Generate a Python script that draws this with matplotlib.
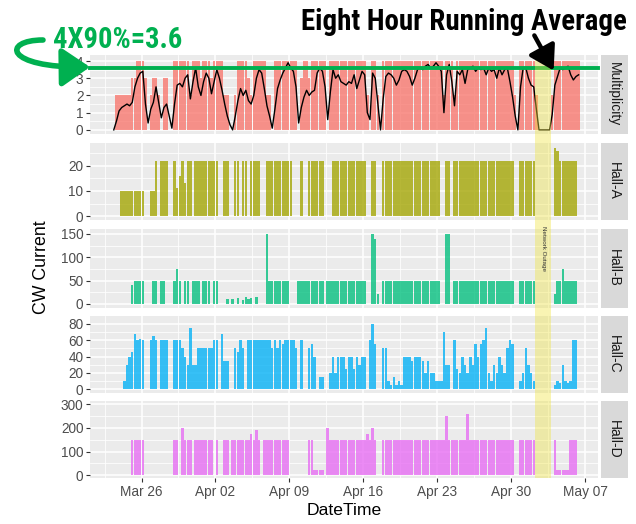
import numpy as np
import matplotlib
matplotlib.use("Agg")
import matplotlib.pyplot as plt
import matplotlib.dates as mdates
import matplotlib.transforms as mtrans
from matplotlib import font_manager
from matplotlib.patches import FancyArrowPatch, Rectangle
from matplotlib.path import Path
from datetime import datetime, timedelta

# ---------------- data (6-hour bins starting 2017-03-23 00:00) ----------------
start_time = datetime(2017, 3, 23)
bin_hours = 6
nan = float("nan")

multiplicity = [
    0, 0, 2, 2,  2, 2, 2, 2,  3, 3, 4, 4,  4, 3, 0, 2,  3, 3, 2, 0,  3, 3, 0, 0,  4, 4, 4, 4,
    4, 4, 2, 4,  4, 4, 3, 4,  4, 4, 3, 4,  4, 4, 4, 2,  2, 0, 0, 2,  4, 4, 4, 4,  3, 2, 4, 4,
    4, 4, 4, 2,  2, 0, 4, 4,  4, 4, 4, 4,  4, 4, 4, 0,  3, 4, 4, 3,  4, 4, 4, 4,  4, 4, 0, 4,
    4, 4, 4, 4,  4, 4, 4, 4,  4, 4, 4, 4,  4, 2, 0, 4,  4, 2, 0, 4,  4, 4, 4, 4,  4, 4, 4, 4,
    4, 4, 4, 4,  4, 4, 4, 4,  4, 4, 4, 4,  4, 4, 2, 4,  4, 4, 2, 4,  4, 4, 4, 4,  4, 4, 4, 4,
    4, 4, 4, 4,  4, 4, 4, 4,  4, 4, 4, 4,  4, 2, 0, 4,  4, 4, 4, 4,  4, 2, 0, 0,  0, 0, 0, 2,
    4, 4, 4, 4,  4, 4, 4, 4,  4, 4, 0, 0,
]

running_avg = [
    nan, 0.0, 0.5, 1.1,  1.3, 1.4, 1.5, 1.4,  1.6, 2.5, 3.0, 3.3,  3.4, 1.5, 0.4, 1.2,
    1.6, 2.5, 1.6, 0.7,  1.3, 1.5, 0.8, 0.1,  1.5, 2.6, 2.7, 2.5,
    3.0, 3.2, 1.8, 2.8,  3.6, 2.5, 2.0, 2.8,  3.3, 3.0, 2.1, 2.8,  3.5, 3.0, 2.3, 1.5,
    0.8, 0.3, 0.0, 0.8,  1.7, 2.4, 2.0, 2.3,  1.7, 1.5, 2.0, 3.0,
    3.5, 3.3, 2.4, 1.4,  0.8, 0.1, 1.2, 2.4,  2.9, 3.3, 3.6, 3.9,  3.6, 3.4, 2.5, 0.4,
    1.3, 1.9, 2.3, 2.0,  2.2, 2.3, 3.3, 3.6,  3.4, 2.5, 0.6, 2.2,
    3.5, 3.0, 3.2, 2.8,  2.7, 2.6, 2.8, 2.7,  3.2, 2.4, 2.9, 3.4,  3.2, 1.0, 0.6, 3.3,
    3.0, 1.5, 0.0, 1.8,  3.1, 3.3, 3.2, 3.0,  2.6, 2.9, 3.4, 3.5,
    3.4, 3.1, 2.6, 3.0,  3.5, 3.6, 3.5, 3.7,  3.8, 3.6, 3.7, 3.9,  3.7, 3.4, 1.0, 3.2,
    3.8, 2.8, 1.4, 3.4,  3.2, 3.5, 2.7, 3.5,  3.6, 3.7, 3.4, 3.6,
    3.5, 3.6, 3.2, 3.6,  3.4, 3.5, 3.0, 3.6,  3.2, 3.5, 3.6, 2.8,  1.9, 0.8, 0.0, 2.5,
    3.6, 3.6, 3.0, 2.6,  2.5, 1.2, 0.0, 0.0,  0.0, 0.0, 0.0, 0.9,
    2.6, 3.1, 3.6, 3.5,  3.6, 3.7, 3.2, 2.9,  3.1, 3.2, nan, nan,
]

hall_a = [
    0, 0, 0, 0,  10, 10, 10, 10,  10, 10, 10, 10,  10, 0, 0, 10,  10, 22, 0, 22,  22, 22, 0, 0,  22, 11, 16, 22,
    13, 22, 22, 0,  22, 22, 22, 22,  22, 22, 22, 22,  22, 0, 0, 22,  22, 0, 0, 22,  22, 0, 22, 22,  0, 22, 22, 22,
    22, 0, 0, 22,  22, 22, 22, 22,  22, 22, 22, 22,  22, 0, 0, 0,  22, 0, 0, 22,  22, 22, 22, 22,  22, 0, 0, 0,
    22, 22, 22, 22,  22, 22, 22, 22,  22, 22, 22, 22,  22, 0, 0, 22,  22, 0, 0, 22,  22, 22, 22, 22,  22, 22, 22, 22,
    22, 22, 22, 22,  22, 22, 22, 22,  22, 22, 22, 22,  22, 0, 0, 22,  22, 0, 22, 22,  22, 22, 22, 22,  22, 22, 22, 22,
    22, 22, 22, 22,  22, 22, 22, 22,  22, 22, 22, 22,  22, 0, 0, 22,  22, 22, 22, 22,  22, 0, 0, 0,  0, 0, 0, 0,
    27, 26, 22, 22,  22, 22, 22, 22,  22, 0, 0, 0,
]

hall_b = [
    0, 0, 0, 0,  0, 0, 0, 0,  40, 50, 50, 50,  50, 0, 0, 0,  50, 50, 0, 50,  50, 0, 0, 0,  50, 75, 50, 0,
    50, 50, 0, 50,  50, 50, 0, 50,  50, 50, 0, 50,  50, 0, 0, 0,  10, 0, 10, 0,  12, 0, 8, 15,  10, 12, 0, 15,
    0, 0, 0, 150,  50, 50, 50, 50,  50, 50, 50, 50,  0, 0, 0, 50,  50, 50, 50, 50,  50, 50, 50, 50,  50, 0, 50, 50,
    50, 50, 50, 50,  50, 50, 50, 50,  50, 50, 50, 50,  50, 0, 0, 150,  140, 20, 0, 50,  50, 50, 50, 50,  50, 50, 50, 50,
    50, 50, 50, 50,  50, 50, 50, 50,  50, 50, 50, 50,  50, 0, 0, 150,  150, 0, 50, 50,  50, 50, 50, 50,  50, 50, 50, 50,
    50, 50, 50, 50,  50, 50, 50, 50,  50, 50, 50, 50,  50, 0, 0, 50,  50, 50, 50, 50,  50, 0, 0, 0,  0, 0, 0, 0,
    20, 50, 50, 75,  50, 50, 50, 50,  50, 0, 0, 0,
]

hall_c = [
    0, 0, 0, 0,  0, 10, 30, 40,  45, 68, 60, 62,  60, 0, 0, 60,  65, 60, 0, 60,  60, 60, 0, 0,  60, 60, 60, 50,
    40, 30, 75, 30,  30, 50, 50, 50,  50, 50, 50, 60,  60, 0, 68, 35,  35, 0, 0, 50,  45, 60, 50, 0,  60, 60, 60, 60,
    60, 60, 60, 60,  60, 50, 60, 50,  60, 55, 60, 60,  60, 60, 50, 0,  60, 0, 0, 50,  55, 40, 0, 15,  15, 0, 0, 20,
    40, 20, 40, 40,  40, 25, 40, 40,  25, 40, 30, 40,  40, 0, 60, 80,  55, 0, 0, 50,  50, 10, 5, 15,  5, 10, 5, 40,
    40, 40, 35, 40,  40, 40, 35, 20,  35, 20, 20, 10,  10, 10, 70, 30,  30, 0, 60, 25,  20, 40, 30, 20,  40, 30, 55, 40,
    55, 60, 75, 20,  10, 30, 20, 40,  30, 20, 50, 60,  55, 0, 0, 10,  20, 50, 30, 20,  10, 0, 0, 0,  0, 0, 0, 0,
    5, 10, 8, 30,  10, 8, 10, 60,  60, 0, 0, 0,
]

hall_d = [
    0, 0, 0, 0,  0, 0, 0, 0,  150, 150, 150, 150,  150, 0, 0, 0,  0, 0, 0, 0,  0, 0, 0, 0,  150, 150, 0, 200,
    150, 150, 150, 0,  150, 150, 150, 150,  150, 150, 150, 0,  150, 0, 0, 150,  150, 0, 150, 150,  150, 150, 150, 150,  150, 175, 150, 190,
    150, 0, 150, 150,  150, 150, 150, 150,  150, 150, 150, 150,  0, 0, 0, 0,  0, 0, 0, 150,  150, 20, 20, 20,  20, 0, 200, 150,
    150, 150, 150, 150,  150, 150, 150, 150,  150, 150, 150, 150,  150, 175, 150, 200,  150, 0, 0, 150,  150, 150, 150, 150,  150, 150, 150, 150,
    150, 150, 150, 150,  150, 150, 150, 150,  150, 150, 150, 150,  150, 150, 150, 250,  150, 150, 150, 150,  150, 150, 150, 260,  150, 150, 150, 150,
    150, 150, 150, 150,  150, 150, 150, 150,  150, 150, 150, 150,  150, 0, 0, 150,  150, 150, 150, 150,  150, 0, 0, 0,  0, 0, 0, 0,
    150, 20, 20, 20,  20, 20, 150, 150,  150, 0, 0, 0,
]

facet_labels = ["Multiplicity", "Hall-A", "Hall-B", "Hall-C", "Hall-D"]
facet_colors = ["#F8766D", "#A3A500", "#00BF7D", "#00B0F6", "#E76BF3"]
facet_ylims = [(-0.21, 4.35), (-1.45, 29.1), (-8, 160), (-4.2, 89.6), (-13, 315)]
facet_yticks = [[0, 1, 2, 3, 4], [0, 10, 20], [0, 50, 100, 150], [0, 20, 40, 60, 80], [0, 100, 200, 300]]
x_tick_dates = [datetime(2017, 3, 26) + timedelta(days=7 * i) for i in range(7)]
outage_start = datetime(2017, 5, 2, 7)
outage_end = datetime(2017, 5, 3, 18)
threshold = 3.6
x_limits = (datetime(2017, 3, 21, 3), datetime(2017, 5, 8, 5))

# ---------------- fonts ----------------
def pick_font(cands, default="DejaVu Sans"):
    for f in cands:
        try:
            font_manager.findfont(font_manager.FontProperties(family=f), fallback_to_default=False)
            return f
        except Exception:
            pass
    return default

base_font = pick_font(["Liberation Sans", "Arial", "DejaVu Sans"])
narrow_font = pick_font(["Liberation Sans Narrow", "Roboto Condensed", "Open Sans Condensed", "Liberation Sans"])
plt.rcParams["font.family"] = [base_font, "DejaVu Sans"]

# ---------------- figure ----------------
W, H = 636, 524
fig = plt.figure(figsize=(W / 100, H / 100), dpi=100)
fig.patch.set_facecolor("white")

panel_px = [(55, 133.5), (142.7, 219.8), (229.3, 307.5), (316, 392.7), (400.7, 478.3)]
left_px, right_px = 90, 598
strip_l, strip_r = 600.5, 628

times = np.array([start_time + timedelta(hours=bin_hours * i) for i in range(len(multiplicity))])
xnum = mdates.date2num(times) + bin_hours / 48.0
bar_w = bin_hours / 24.0 * 0.92

series = [np.array(multiplicity, float), np.array(hall_a, float), np.array(hall_b, float),
          np.array(hall_c, float), np.array(hall_d, float)]

xlo, xhi = mdates.date2num(x_limits[0]), mdates.date2num(x_limits[1])

axes = []
for i, (top, bot) in enumerate(panel_px):
    ax = fig.add_axes([left_px / W, 1 - bot / H, (right_px - left_px) / W, (bot - top) / H])
    axes.append(ax)
    ax.set_facecolor("#EBEBEB")
    for s in ax.spines.values():
        s.set_visible(False)
    vals = series[i]
    m = vals > 0
    ax.bar(xnum[m], vals[m], width=bar_w, color=facet_colors[i], alpha=0.78, linewidth=0, zorder=2)
    yt = facet_yticks[i]
    ax.set_yticks(yt)
    step = yt[1] - yt[0]
    minors = [v + step / 2 for v in yt if v + step / 2 < facet_ylims[i][1]]
    ax.set_yticks(minors, minor=True)
    ax.set_xticks(mdates.date2num(x_tick_dates))
    xm = [mdates.date2num(d - timedelta(days=3.5)) for d in x_tick_dates] + \
         [mdates.date2num(x_tick_dates[-1] + timedelta(days=3.5))]
    xm = [v for v in xm if xlo < v < xhi]
    ax.set_xticks(xm, minor=True)
    ax.set_xlim(xlo, xhi)
    ax.set_ylim(*facet_ylims[i])
    ax.grid(True, which="major", color="white", linewidth=1.1, zorder=0)
    ax.grid(True, which="minor", color="white", linewidth=0.55, zorder=0)
    ax.set_axisbelow(True)
    ax.tick_params(axis="y", which="major", length=2.75, width=0.8, color="#333333",
                   labelsize=9.8, labelcolor="#4D4D4D", pad=2)
    ax.tick_params(axis="both", which="minor", length=0)
    if i < 4:
        ax.tick_params(axis="x", which="major", length=0, labelbottom=False)
    else:
        ax.xaxis.set_major_formatter(mdates.DateFormatter("%b %d"))
        ax.tick_params(axis="x", which="major", length=2.75, width=0.8, color="#333333",
                       labelsize=9.8, labelcolor="#4D4D4D", pad=2)
    # facet strip
    x0 = (strip_l - left_px) / (right_px - left_px)
    x1 = (strip_r - left_px) / (right_px - left_px)
    ax.add_patch(Rectangle((x0, 0), x1 - x0, 1, transform=ax.transAxes, facecolor="#D9D9D9",
                           edgecolor="none", clip_on=False, zorder=1))
    ax.text((x0 + x1) / 2, 0.5, facet_labels[i], transform=ax.transAxes, rotation=270,
            ha="center", va="center", fontsize=10, color="#1A1A1A", clip_on=False)

# running average line
axes[0].plot(xnum, running_avg, color="black", linewidth=1.0, zorder=3)

axes[4].set_xlabel("DateTime", fontsize=12.6, color="black", labelpad=3)
fig.text(42 / W, 1 - 267 / H, "CW Current", rotation=90, ha="center", va="center", fontsize=12.8)

# network outage band across all panels
blend = mtrans.blended_transform_factory(axes[4].transData, fig.transFigure)
xs, xe = mdates.date2num(outage_start), mdates.date2num(outage_end)
band = Rectangle((xs, 1 - 478.3 / H), xe - xs, (478.3 - 56) / H, transform=blend,
                 facecolor="#F0E442", alpha=0.4, edgecolor="none", zorder=5)
fig.add_artist(band)
fig.text((xs + xe) / 2, 1 - 249 / H, "Network Outage", transform=blend, rotation=270,
         ha="center", va="center", fontsize=4.5, color="#333333", zorder=6)

# threshold line (green) across the multiplicity panel
green = "#00B050"
axes[0].axhline(threshold, xmin=0, xmax=1, color=green, linewidth=2.8, clip_on=False, zorder=6)

# texts with auto width fit
renderer = fig.canvas.get_renderer()
def fit_text(x, y, s, target_w, color, ha):
    t = fig.text(x / W, 1 - y / H, s, ha=ha, va="center", fontsize=20, fontweight="bold",
                 family=[narrow_font, "DejaVu Sans"], color=color, zorder=7)
    w = t.get_window_extent(renderer).width
    t.set_fontsize(20 * target_w / w)
    return t

fit_text(627, 22, "Eight Hour Running Average", 324, "black", "right")
fit_text(53, 40, "4X90%=3.6", 129, green, "left")

def fpt(x, y):
    return (x / W, 1 - y / H)

# black arrow
arr = FancyArrowPatch(fpt(533, 33), fpt(555, 73), transform=fig.transFigure,
                      arrowstyle="-|>,head_length=0.9,head_width=0.55", mutation_scale=16,
                      color="black", linewidth=3.2, zorder=8)
fig.add_artist(arr)

# green curved arrow
verts = [fpt(43, 40), fpt(2, 40), fpt(4, 68), fpt(90, 67)]
codes = [Path.MOVETO, Path.CURVE4, Path.CURVE4, Path.CURVE4]
garr = FancyArrowPatch(path=Path(verts, codes), transform=fig.transFigure,
                       arrowstyle="-|>,head_length=0.95,head_width=0.65", mutation_scale=18,
                       color=green, linewidth=4, zorder=8)
fig.add_artist(garr)

fig.savefig("out.png", dpi=100)
